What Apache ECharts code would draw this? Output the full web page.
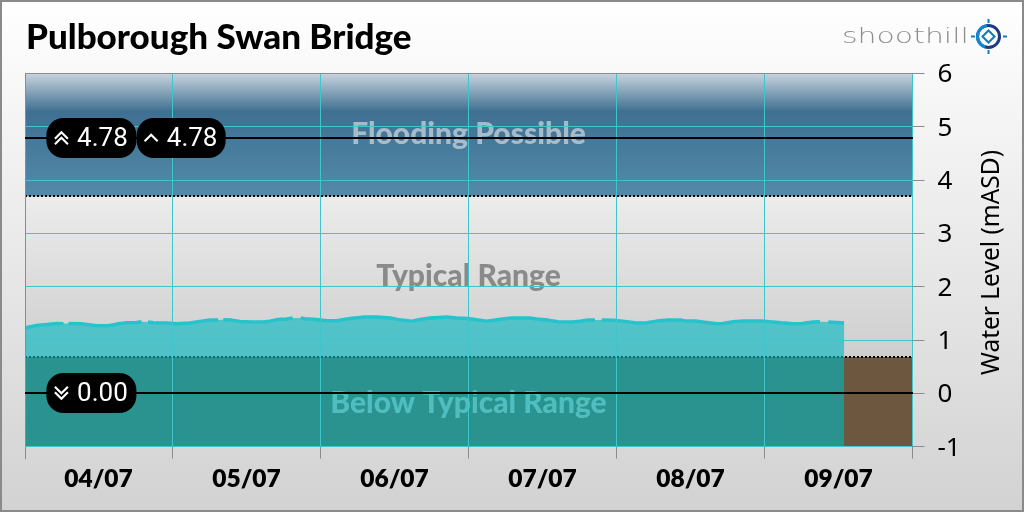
<!DOCTYPE html>
<html><head><meta charset="utf-8">
<style>html,body{margin:0;padding:0;background:#fff}#c{width:1024px;height:512px}</style>
<script src="https://cdn.jsdelivr.net/npm/echarts@6/dist/echarts.min.js"></script>
</head><body><div id="c"></div>
<script>
const titleText = 'Pulborough Swan Bridge';
const dateLabels = ['04/07','05/07','06/07','07/07','08/07','09/07'];
const axisName = 'Water Level (mASD)';
// hours since 04/07 00:00; a null level marks a gap in the line
const hours = [0,0.35,1.98,3.6,5.22,6.32,6.73,7.13,9.27,10.08,11.71,13.54,14.95,16.57,18.19,18.97,19.54,20.02,20.88,23.06,24.68,26.84,28.46,30.08,31.42,31.86,32.24,33.6,34.94,36.84,38.67,39.81,41.11,42.52,43.49,44.19,44.79,45.48,47.38,49,50.62,52.25,52.78,55.21,57.11,59.27,61.17,62.79,64.13,65.75,68.46,70.09,71.92,73.33,74.95,76.29,78.19,79,81.97,83.05,84.89,86.51,88.73,90.08,91.42,92.51,93.16,93.6,95.76,97.38,99.28,100.9,102.52,104.4,106.57,107.38,109,110.03,112.25,113.27,114.89,116.51,119.75,120.89,122.79,124.62,126.03,127.86,129,129.73,130.34,131.7,132.9];
const levels = [1.23,1.235,1.273,1.291,1.31,1.306,null,1.31,1.303,1.291,1.265,1.265,1.297,1.321,1.329,1.34,null,1.335,1.321,1.316,1.303,1.316,1.348,1.372,1.372,null,1.378,1.372,1.348,1.335,1.335,1.353,1.385,1.391,1.41,null,1.41,1.397,1.385,1.359,1.359,1.391,1.404,1.429,1.429,1.41,1.372,1.353,1.385,1.41,1.429,1.41,1.404,1.378,1.353,1.372,1.404,1.41,1.41,1.391,1.372,1.34,1.335,1.353,1.372,1.372,null,1.372,1.367,1.348,1.316,1.321,1.353,1.372,1.372,1.353,1.353,1.335,1.303,1.31,1.34,1.353,1.353,1.34,1.321,1.303,1.31,1.335,1.34,null,1.335,1.329,1.316];
const flowBands = [3.69, 0.68];
const solidLevels = [4.78, 0];
const bandNames = ['Flooding Possible','Typical Range','Below Typical Range'];
const bandLabelLevels = [4.86, 2.2, -0.19];
const bandLabelColors = ['rgba(205,215,222,0.72)','#8a8a8a','#d2c8b8'];
const markerHours = [10.85, 25.4, 10.85];
const markerLevels = [4.78, 4.78, 0];
const markerTexts = ['4.78','4.78','0.00'];
const markerIcons = ['upup','up','downdown'];

const CY = '#3fc5cc', GR = '#8c8c8c', LG = echarts.graphic.LinearGradient;
const pageStops = [{offset:0,color:'#ffffff'},{offset:1,color:'#d2d2d2'}];
const chart = echarts.init(document.getElementById('c'), null, {renderer:'canvas'});
const areaData = hours.map((h,i)=>[h,levels[i]]).filter(p=>p[1]!==null);
const lineData = hours.map((h,i)=>[h,levels[i]]);
const FONT = 'Lato';

function chevron(cx, cy, dir){
  return {type:'polyline', shape:{points:[[cx-6.5,cy+dir*3.2],[cx,cy-dir*3.2],[cx+6.5,cy+dir*3.2]]},
    style:{stroke:'#fff',lineWidth:2.2,fill:null}, z2:3};
}
function levelLine(p, api, style){
  const y=Math.round(api.coord([0,api.value(0)])[1]), cs=p.coordSys, x0=Math.ceil(cs.x);
  return {type:'line',shape:{x1:x0,y1:y,x2:Math.round(cs.x+cs.width),y2:y},style:style};
}
chart.setOption({
  animation:false,
  backgroundColor:new LG(0,0,0,1,pageStops),
  title:{text:titleText,left:26,top:20,padding:0,textStyle:{fontFamily:FONT,fontWeight:900,fontSize:35,color:'#000'}},
  grid:{left:24.5,width:888,top:73.3,height:373.3,containLabel:false},
  xAxis:[
    {type:'value',min:0,max:144,interval:24,z:5,
     axisLine:{show:true,onZero:false,lineStyle:{color:CY}},
     axisTick:{show:true,length:12,lineStyle:{color:GR}},
     axisLabel:{show:false},
     splitLine:{show:true,showMinLine:false,lineStyle:{color:CY,width:1}}},
    {type:'category',data:dateLabels,position:'bottom',boundaryGap:true,z:5,
     axisLine:{show:false},axisTick:{show:false},splitLine:{show:false},
     axisLabel:{show:true,interval:0,margin:20,fontFamily:FONT,fontWeight:800,fontSize:24.5,color:'#000'}},
    {type:'value',min:0,max:144,position:'top',z:5,
     axisLine:{show:true,onZero:false,lineStyle:{color:GR}},axisTick:{show:false},axisLabel:{show:false},splitLine:{show:false}}
  ],
  yAxis:[
    {type:'value',min:-1,max:6,interval:1,position:'right',z:5,
     name:axisName,nameLocation:'middle',nameRotate:90,nameGap:67,
     nameTextStyle:{fontFamily:'Noto Sans',fontSize:24.5,color:'#000',padding:[0,5,0,0]},
     axisLine:{show:true,onZero:false,lineStyle:{color:CY}},
     axisTick:{show:true,length:12,lineStyle:{color:GR}},
     axisLabel:{margin:25,color:'#000',align:'left',formatter:'{n|{value}}',
       rich:{n:{fontFamily:'Noto Sans',fontSize:26,color:'#000',padding:[3,0,0,0]}}},
     splitLine:{show:true,showMaxLine:false,lineStyle:{color:CY,width:1}}},
    {type:'value',min:-1,max:6,position:'left',offset:-1,z:5,
     axisLine:{show:true,onZero:false,lineStyle:{color:GR}},axisTick:{show:false},axisLabel:{show:false},splitLine:{show:false}}
  ],
  series:[
    {type:'line',name:'bands',data:[],z:1,silent:true,
     markArea:{silent:true,z:1,data:[
       [{yAxis:flowBands[0],itemStyle:{color:new LG(0,0,0,1,[{offset:0,color:'#c8d4de'},{offset:0.31,color:'#3f7091'},{offset:1,color:'#528aaa'}])}},{yAxis:6}],
       [{yAxis:flowBands[1],itemStyle:{color:new LG(0,0,0,1,[{offset:0,color:'#ececec'},{offset:1,color:'#cecece'}])}},{yAxis:flowBands[0]}],
       [{yAxis:-1,itemStyle:{color:'#6e573f'}},{yAxis:flowBands[1]}]
     ]}},
    {type:'custom',name:'thresholds',z:2,silent:true,clip:false,
     data:flowBands.map(v=>[v]),encode:{y:0},
     renderItem:(p,api)=>levelLine(p,api,{stroke:'#000',lineWidth:2,lineDash:[2,2],fill:null})},
    {type:'custom',name:'bandLabels',z:3,silent:true,clip:false,
     data:bandLabelLevels.map(v=>[72,v]),
     encode:{x:0,y:1},
     renderItem:(p,api)=>{const c=api.coord([api.value(0),api.value(1)]);
       return {type:'text',x:c[0],y:c[1],style:{text:bandNames[p.dataIndex],fill:bandLabelColors[p.dataIndex],
         font:'900 30px '+FONT,align:'center',verticalAlign:'middle'}};}},
    {type:'line',name:'waterArea',data:areaData,z:4,silent:true,symbol:'none',
     lineStyle:{width:0},areaStyle:{color:'rgba(0,184,194,0.62)',origin:'start',opacity:1}},
    {type:'line',name:'waterLine',data:lineData,z:4,silent:true,symbol:'none',connectNulls:false,
     lineStyle:{width:3.5,color:'#26c3cc',cap:'butt'}},
    {type:'custom',name:'limits',z:6,silent:true,clip:false,
     data:solidLevels.map(v=>[v]),encode:{y:0},
     renderItem:(p,api)=>levelLine(p,api,{stroke:'#000',lineWidth:2,fill:null})},
    {type:'custom',name:'markers',z:7,silent:true,clip:false,
     data:markerHours.map((h,i)=>[h,markerLevels[i]]),
     encode:{x:0,y:1},
     renderItem:(p,api)=>{
       const c=api.coord([api.value(0),api.value(1)]),t=markerTexts[p.dataIndex],ic=markerIcons[p.dataIndex];
       const w=ic==='up'?89:90, x=c[0], y=Math.round(c[1]), ix=x-30;
       const kids=[{type:'rect',shape:{x:x-w/2,y:y-20,width:w,height:40,r:17},style:{fill:'#000'}},
         {type:'text',x:x+11,y:y+1,style:{text:t,fill:'#fff',font:'400 26px Roboto',align:'center',verticalAlign:'middle'},z2:3}];
       if(ic==='upup'){kids.push(chevron(ix,y-2.5,1),chevron(ix,y+3,1));}
       if(ic==='up'){kids.push(chevron(ix,y,1));}
       if(ic==='downdown'){kids.push(chevron(ix,y-3,-1),chevron(ix,y+2.5,-1));}
       return {type:'group',children:kids};
     }}
  ],
  graphic:[
    {type:'rect',z:100,silent:true,shape:{x:23,y:60,width:2,height:400},style:{fill:new LG(0,0,0,512,pageStops,true)}},
    {type:'rect',z:100,silent:true,shape:{x:25,y:447,width:1,height:12},style:{fill:GR}},
    {type:'rect',z:100,silent:true,shape:{x:1,y:1,width:1022,height:510},style:{fill:null,stroke:'#8a8a8a',lineWidth:2}},
    {type:'text',z:100,silent:true,x:842,y:26,scaleX:1.36,style:{text:'shoothill',fill:'#8e8e8e',fontSize:22,fontFamily:'DejaVu Sans',fontWeight:200}},
    {type:'circle',z:100,silent:true,shape:{cx:988.5,cy:36.5,r:11},style:{fill:null,stroke:'#1d3a82',lineWidth:3}},
    {type:'arc',z:101,silent:true,shape:{cx:988.5,cy:36.5,r:11,startAngle:Math.PI*0.6,endAngle:Math.PI*1.45},style:{fill:null,stroke:'#0f8ad0',lineWidth:3}},
    {type:'polygon',z:100,silent:true,shape:{points:[[988.5,30.5],[994.5,36.5],[988.5,42.5],[982.5,36.5]]},style:{fill:null,stroke:'#1778b8',lineWidth:2}},
    {type:'rect',z:100,silent:true,shape:{x:987.5,y:19,width:2,height:4},style:{fill:'#1778b8'}},
    {type:'rect',z:100,silent:true,shape:{x:987.5,y:50,width:2,height:4},style:{fill:'#1778b8'}},
    {type:'rect',z:100,silent:true,shape:{x:971,y:35.5,width:4,height:2},style:{fill:'#1778b8'}},
    {type:'rect',z:100,silent:true,shape:{x:1003,y:35.5,width:4,height:2},style:{fill:'#1778b8'}}
  ]
});
</script></body></html>
